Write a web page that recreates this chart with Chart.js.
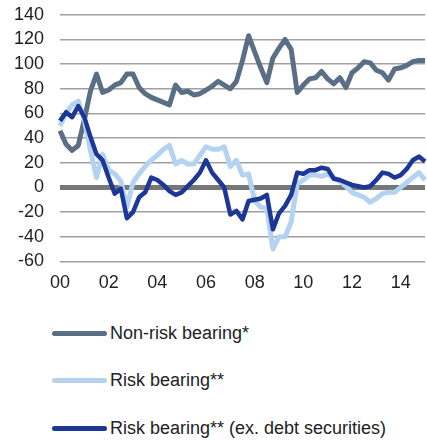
<!DOCTYPE html>
<html>
<head>
<meta charset="utf-8">
<script src="https://cdn.jsdelivr.net/npm/chart.js@4.4.0/dist/chart.umd.min.js"></script>
<style>
  body { margin: 0; background: #fff; font-family: "Liberation Sans", Arial, sans-serif; }
  #wrap { position: relative; width: 427px; height: 441px; overflow: hidden; }
  #chart { position: absolute; left: 0; top: -12px; }
  #legend { position: absolute; left: 52px; top: 321px; }
  .item { display: flex; align-items: center; height: 24px; margin-bottom: 23.5px; font-size: 18px; color: #222; }
  .swatch { width: 55px; height: 5px; border-radius: 2.5px; margin-right: 3px; }
</style>
</head>
<body>
<div id="wrap">
  <canvas id="chart" width="427" height="306"></canvas>
  <div id="legend"></div>
</div>
<script>
// quarterly, 2000Q1 .. 2015Q1
const quarters = [];
for (let y = 2000; y <= 2015; y++) {
  for (let q = 1; q <= 4; q++) {
    if (y === 2015 && q > 1) break;
    quarters.push(y + "Q" + q);
  }
}

const nonRisk = [46, 35, 30, 34, 55, 78, 92, 77, 79, 83, 85, 92, 92, 81, 76, 73,
  71, 69, 67, 83, 77, 78, 75, 76, 79, 82, 86, 83, 80, 86, 103,
  123, 110, 97, 85, 105, 113, 120, 112, 77, 83, 88, 89, 94, 88,
  84, 89, 81, 93, 97, 102, 101, 95, 93, 87, 96, 97, 99, 102, 103, 103];

const riskBearing = [50, 60, 67, 70, 55, 30, 8, 27, 14, 11, 5, -16, 4, 11, 17, 22,
  26, 31, 34, 19, 22, 19, 19, 26, 33, 31, 31, 33, 17, 22, 10,
  11, -11, -16, -17, -50, -40, -40, -28, 3, 6, 10, 10, 9, 11,
  8, 5, 1, -4, -6, -8, -12, -9, -5, -4, -4, 0, 4, 8, 12, 6];

const riskExDebt = [54, 61, 57, 66, 57, 41, 27, 22, 8, -5, -1, -25, -20, -8, -4, 8,
  6, 2, -3, -6, -4, 1, 6, 12, 22, 12, 6, 0, -22, -19, -26,
  -11, -10, -9, -6, -34, -21, -15, -6, 12, 11, 14, 14, 16, 15,
  7, 6, 4, 2, 1, 0, 1, 6, 12, 11, 8, 10, 15, 22, 25, 21];

const seriesNames = ["Non-risk bearing*", "Risk bearing**", "Risk bearing** (ex. debt securities)"];
const seriesColors = ["#5a6f86", "#b4d3f0", "#1c3796"];

const datasets = [
  { label: seriesNames[0], data: nonRisk, borderColor: seriesColors[0], borderWidth: 5, order: 2 },
  { label: seriesNames[1], data: riskBearing, borderColor: seriesColors[1], borderWidth: 5, order: 1 },
  { label: seriesNames[2], data: riskExDebt, borderColor: seriesColors[2], borderWidth: 4.5, order: 0 },
];
datasets.forEach(d => { d.pointRadius = 0; d.tension = 0; d.fill = false; d.borderJoinStyle = "round"; });

new Chart(document.getElementById("chart"), {
  type: "line",
  data: { labels: quarters, datasets: datasets },
  options: {
    responsive: false,
    animation: false,
    layout: { padding: { top: 0, right: 2, left: 0, bottom: 0 } },
    plugins: { legend: { display: false }, tooltip: { enabled: false } },
    scales: {
      x: {
        // ticks hidden, but tickLength keeps the labels away from the plot
        grid: { display: false, drawTicks: true, tickLength: 11 },
        border: { display: false },
        ticks: {
          autoSkip: false,
          maxRotation: 0,
          padding: 0,
          color: "#222",
          font: { family: "Liberation Sans", size: 18 },
          callback: function (v, i) {
            const lab = quarters[i];
            return lab.endsWith("Q1") && (parseInt(lab) % 2 === 0) && parseInt(lab) < 2015 ? lab.slice(2, 4) : "";
          },
        },
      },
      y: {
        min: -60,
        max: 140,
        ticks: {
          stepSize: 20,
          autoSkip: false,
          padding: 16,
          color: "#222",
          font: { family: "Liberation Sans", size: 18 },
        },
        border: { display: false },
        grid: {
          drawTicks: false,
          color: ctx => ctx.tick.value === 0 ? "#777777" : "#a0a0a0",
          lineWidth: ctx => ctx.tick.value === 0 ? 5 : 1.5,
        },
        afterFit: s => { s.width = 60; },
      },
    },
  },
});

// legend, one item per row
const legend = document.getElementById("legend");
seriesNames.forEach((name, i) => {
  const row = document.createElement("div");
  row.className = "item";
  row.innerHTML = '<span class="swatch" style="background:' + seriesColors[i] + '"></span><span>' + name + '</span>';
  legend.appendChild(row);
});
</script>
</body>
</html>
